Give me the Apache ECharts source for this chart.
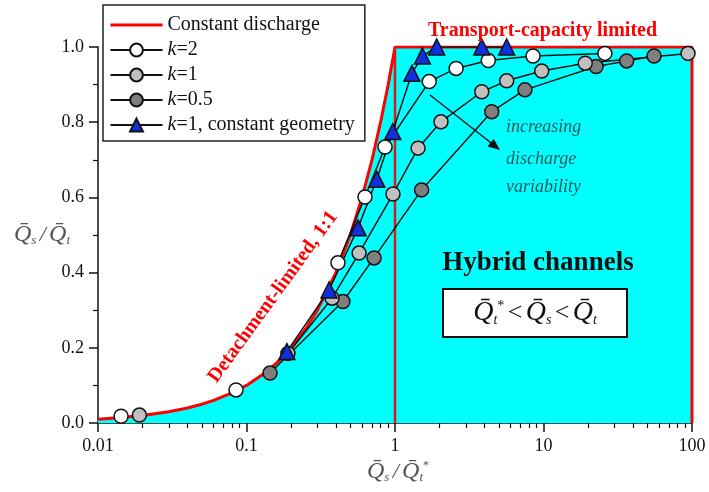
<!DOCTYPE html>
<html>
<head>
<meta charset="utf-8">
<script src="https://cdn.jsdelivr.net/npm/echarts@6/dist/echarts.min.js"></script>
<style>
html, body { margin: 0; padding: 0; background: #fff; }
#main { width: 709px; height: 492px; }
</style>
</head>
<body>
<div id="main"></div>
<script>
// constant discharge: 1:1 line up to 1, then capped at 1, closed down at 100
const curveX = [0.01, 0.015, 0.02, 0.03, 0.04, 0.05, 0.06, 0.08, 0.1, 0.13, 0.16, 0.2, 0.25, 0.3, 0.4, 0.5, 0.6, 0.7, 0.8, 0.9, 1, 100, 100];
const curveY = [0.01, 0.015, 0.02, 0.03, 0.04, 0.05, 0.06, 0.08, 0.1, 0.13, 0.16, 0.2, 0.25, 0.3, 0.4, 0.5, 0.6, 0.7, 0.8, 0.9, 1, 1, 0];

// '-' breaks the connecting line
const k2X = [0.0143, '-', 0.085, '-', 0.413, 0.628, 0.857, 1.70, 2.58, 4.25, 8.5, 25.9];
const k2Y = [0.018, '-', 0.088, '-', 0.426, 0.601, 0.734, 0.908, 0.943, 0.964, 0.976, 0.983];

const k1X = [0.019, '-', 0.19, 0.377, 0.573, 0.969, 1.43, 2.04, 3.84, 5.65, 9.73, 19.1, 94];
const k1Y = [0.021, '-', 0.185, 0.332, 0.452, 0.609, 0.731, 0.801, 0.881, 0.91, 0.936, 0.957, 0.983];

const k05X = [0.144, 0.446, 0.723, 1.51, 4.48, 7.5, 22.6, 36.3, 55.5];
const k05Y = [0.133, 0.323, 0.439, 0.62, 0.828, 0.886, 0.948, 0.963, 0.976];

const geomX = [0.187, 0.36, 0.564, 0.754, 0.966, 1.30, 1.53, 1.91, 3.84, 5.65];
const geomY = [0.19, 0.354, 0.519, 0.648, 0.775, 0.93, 0.976, 1.0, 1.0, 1.0];

const xMinorTicks = [0.02, 0.03, 0.04, 0.05, 0.06, 0.07, 0.08, 0.09,
  0.2, 0.3, 0.4, 0.5, 0.6, 0.7, 0.8, 0.9,
  2, 3, 4, 5, 6, 7, 8, 9,
  20, 30, 40, 50, 60, 70, 80, 90];

const legendNames = ['Constant discharge', 'k=2', 'k=1', 'k=0.5', 'k=1, constant geometry'];

const serif = 'Liberation Serif';
const Q = 'Q\u0304';

function pairs(xs, ys) {
  return xs.map((x, i) => (x === '-' ? ['-', '-'] : [x, ys[i]]));
}

function markerSeries(name, xs, ys, color, symbol, size) {
  return {
    name: name,
    type: 'line',
    data: pairs(xs, ys),
    symbol: symbol,
    symbolSize: size,
    connectNulls: false,
    lineStyle: { color: '#111', width: 1.5 },
    itemStyle: { color: color, borderColor: '#111', borderWidth: 1.5 },
    z: 5
  };
}

const chart = echarts.init(document.getElementById('main'));

const option = {
  animation: false,
  backgroundColor: '#fff',
  grid: { left: 98, right: 17, top: 47, bottom: 69 },
  legend: {
    data: legendNames.map(n => (n === 'Constant discharge'
      ? { name: n, itemStyle: { opacity: 0 }, lineStyle: { width: 3 } } : n)),
    orient: 'vertical',
    left: 103,
    top: 5,
    itemWidth: 52,
    itemHeight: 16,
    itemGap: 5,
    padding: [10, 10, 6, 6],
    backgroundColor: '#fff',
    borderColor: '#222',
    borderWidth: 1.5,
    borderRadius: 0,
    textStyle: { fontFamily: serif, fontSize: 20, color: '#111',
      rich: { i: { fontFamily: serif, fontSize: 20, fontStyle: 'italic', color: '#111' } } },
    formatter: function (name) {
      return name.charAt(0) === 'k' ? '{i|k}' + name.slice(1) : name;
    }
  },
  xAxis: [{
    type: 'log',
    logBase: 10,
    min: 0.01,
    max: 100,
    axisLine: { lineStyle: { color: '#111', width: 1.5 } },
    axisTick: { length: 9, lineStyle: { color: '#111', width: 1.5 } },
    axisLabel: { fontFamily: serif, fontSize: 18, color: '#111', margin: 14 },
    splitLine: { show: false }
  }, {
    type: 'log',
    logBase: 10,
    min: 0.01,
    max: 100,
    position: 'bottom',
    axisLine: { show: false },
    axisTick: { length: 5, customValues: xMinorTicks, lineStyle: { color: '#111', width: 1.2 } },
    axisLabel: { show: false },
    splitLine: { show: false }
  }],
  yAxis: {
    type: 'value',
    min: 0,
    max: 1,
    interval: 0.2,
    axisLine: { show: true, lineStyle: { color: '#111', width: 1.5 } },
    axisTick: { show: true, length: 9, lineStyle: { color: '#111', width: 1.5 } },
    minorTick: { show: true, splitNumber: 2, length: 5, lineStyle: { color: '#111', width: 1.2 } },
    axisLabel: { fontFamily: serif, fontSize: 18, color: '#111', margin: 14,
      formatter: v => v.toFixed(1) },
    splitLine: { show: false }
  },
  series: [
    {
      name: 'Constant discharge',
      type: 'line',
      data: pairs(curveX, curveY),
      symbol: 'none',
      lineStyle: { color: '#ff0000', width: 3 },
      itemStyle: { color: '#ff0000' },
      areaStyle: { color: '#00ffff', opacity: 1 },
      z: 2
    },
    {
      name: 'boundary',
      type: 'line',
      data: [[1, 0], [1, 1]],
      symbol: 'none',
      lineStyle: { color: '#e01818', width: 2.5 },
      z: 3
    },
    markerSeries('k=0.5', k05X, k05Y, '#7f7f7f', 'circle', 14),
    markerSeries('k=1', k1X, k1Y, '#c0c0c0', 'circle', 14),
    markerSeries('k=2', k2X, k2Y, '#ffffff', 'circle', 14),
    markerSeries('k=1, constant geometry', geomX, geomY, '#1030e0', 'triangle', 16)
  ],
  graphic: [
    { type: 'text', left: 428, top: 21, z: 100,
      style: { text: 'Transport-capacity limited', fontFamily: serif, fontSize: 20, fontWeight: 'bold', fill: '#ff0000' } },
    { type: 'text', x: 273, y: 297, rotation: 54 * Math.PI / 180, z: 100,
      style: { text: 'Detachment-limited, 1:1', fontFamily: serif, fontSize: 20, fontWeight: 'bold', fill: '#ff0000',
        align: 'center', verticalAlign: 'middle' } },
    { type: 'text', x: 538, y: 263, z: 100,
      style: { text: 'Hybrid channels', fontFamily: serif, fontSize: 27, fontWeight: 'bold', fill: '#111',
        align: 'center', verticalAlign: 'middle' } },
    { type: 'rect', shape: { x: 443, y: 289, width: 184, height: 48 },
      style: { fill: '#fff', stroke: '#111', lineWidth: 2 }, z: 100 },
    { type: 'text', x: 535, y: 313, z: 101,
      style: {
        text: '{q|' + Q + '}{s|t}{p|*} {o|<} {q|' + Q + '}{s|s} {o|<} {q|' + Q + '}{s|t}',
        align: 'center', verticalAlign: 'middle',
        rich: {
          q: { fontFamily: serif, fontSize: 28, fontStyle: 'italic', fill: '#111' },
          s: { fontFamily: serif, fontSize: 14, fontStyle: 'italic', fill: '#111', verticalAlign: 'bottom', padding: [10, 0, 0, 0] },
          p: { fontFamily: serif, fontSize: 14, fill: '#111', verticalAlign: 'top', padding: [0, 0, 12, 0] },
          o: { fontFamily: serif, fontSize: 26, fill: '#111' }
        }
      } },
    { type: 'text', x: 506, y: 127, z: 100,
      style: { text: 'increasing', fontFamily: serif, fontSize: 18, fontStyle: 'italic', fill: '#24585a', verticalAlign: 'middle' } },
    { type: 'text', x: 506, y: 159, z: 100,
      style: { text: 'discharge', fontFamily: serif, fontSize: 18, fontStyle: 'italic', fill: '#24585a', verticalAlign: 'middle' } },
    { type: 'text', x: 506, y: 187, z: 100,
      style: { text: 'variability', fontFamily: serif, fontSize: 18, fontStyle: 'italic', fill: '#24585a', verticalAlign: 'middle' } },
    { type: 'line', shape: { x1: 430, y1: 95, x2: 495, y2: 146 },
      style: { stroke: '#111', lineWidth: 1.5 }, z: 100 },
    { type: 'polygon', shape: { points: [[500, 150], [487.5, 146.5], [493.7, 138.7]] },
      style: { fill: '#111' }, z: 100 },
    { type: 'text', x: 42, y: 235, z: 100,
      style: {
        text: '{q|' + Q + '}{s|s} {o|/} {q|' + Q + '}{s|t}',
        align: 'center', verticalAlign: 'middle',
        rich: {
          q: { fontFamily: serif, fontSize: 24, fontStyle: 'italic', fill: '#555' },
          s: { fontFamily: serif, fontSize: 13, fontStyle: 'italic', fill: '#555', verticalAlign: 'bottom', padding: [9, 0, 0, 0] },
          o: { fontFamily: serif, fontSize: 22, fontStyle: 'italic', fill: '#555' }
        }
      } },
    { type: 'text', x: 398, y: 472, z: 100,
      style: {
        text: '{q|' + Q + '}{s|s} {o|/} {q|' + Q + '}{s|t}{p|*}',
        align: 'center', verticalAlign: 'middle',
        rich: {
          q: { fontFamily: serif, fontSize: 24, fontStyle: 'italic', fill: '#555' },
          s: { fontFamily: serif, fontSize: 13, fontStyle: 'italic', fill: '#555', verticalAlign: 'bottom', padding: [9, 0, 0, 0] },
          p: { fontFamily: serif, fontSize: 12, fill: '#555', verticalAlign: 'top', padding: [0, 0, 10, 0] },
          o: { fontFamily: serif, fontSize: 22, fontStyle: 'italic', fill: '#555' }
        }
      } }
  ]
};

chart.setOption(option);
</script>
</body>
</html>
